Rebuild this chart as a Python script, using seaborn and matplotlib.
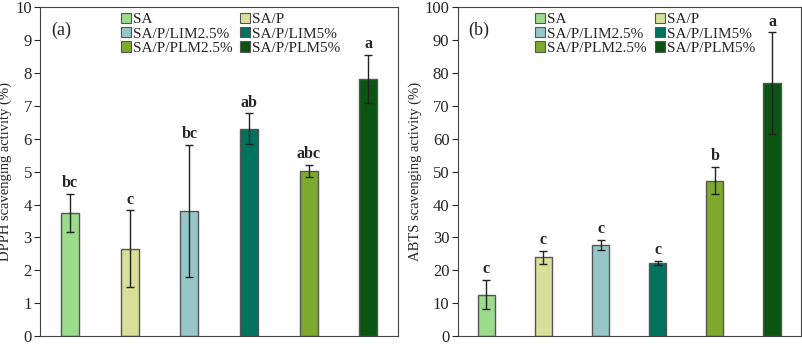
import matplotlib
matplotlib.use("Agg")
import matplotlib.pyplot as plt
import matplotlib.patches as mpatches
import seaborn as sns
import pandas as pd

samples = ["SA", "SA/P", "SA/P/LIM2.5%", "SA/P/LIM5%", "SA/P/PLM2.5%", "SA/P/PLM5%"]
colors = ["#9ADB8C", "#D8DF98", "#96C7C6", "#00735E", "#7DAA2C", "#0A5512"]

dpph_mean = [3.75, 2.65, 3.80, 6.30, 5.02, 7.83]
dpph_err = [0.58, 1.17, 2.01, 0.47, 0.19, 0.73]
dpph_sig = ["bc", "c", "bc", "ab", "abc", "a"]

abts_mean = [12.6, 24.0, 27.7, 22.3, 47.3, 76.9]
abts_err = [4.5, 2.0, 1.5, 0.6, 4.1, 15.5]
abts_sig = ["c", "c", "c", "c", "b", "a"]

sns.set_style("white")
plt.rcParams["font.family"] = ["Liberation Serif", "DejaVu Serif"]

fig = plt.figure(figsize=(8.03, 3.45), dpi=100)
ax1 = fig.add_axes([0.050, 0.026, 0.446, 0.953])
ax2 = fig.add_axes([0.570, 0.026, 0.427, 0.953])


def draw_panel(ax, means, errs, sig, ylim, step, ylabel, tag):
    df = pd.DataFrame({"sample": samples, "value": means})
    sns.barplot(data=df, x="sample", y="value", hue="sample", palette=colors,
                saturation=1, width=0.3, edgecolor="#555555", linewidth=1.0,
                legend=False, ax=ax)
    ax.errorbar(range(len(samples)), means, yerr=errs, fmt="none",
                ecolor="#222222", elinewidth=1.0, capsize=3, capthick=1.0)
    off = ylim * 0.008
    for i, (m, e, s) in enumerate(zip(means, errs, sig)):
        ax.text(i, m + e + off, s, ha="center", va="bottom",
                fontsize=11.5, fontweight="bold")
    ax.set_ylim(0, ylim)
    ax.set_xlim(-0.5, len(samples) - 0.5)
    ax.set_yticks(range(0, ylim + 1, step))
    ax.set_xticks([])
    ax.set_xlabel("")
    ax.set_ylabel(ylabel, fontsize=10.5, labelpad=2)
    ax.tick_params(axis="y", direction="out", length=4, width=0.8,
                   labelsize=12, left=True, pad=2)
    for sp in ax.spines.values():
        sp.set_color("#444444")
        sp.set_linewidth(0.8)
    ax.text(0.03, 0.955, tag, transform=ax.transAxes, fontsize=13,
            ha="left", va="top")
    # legend filled row by row: SA, SA/P / LIM2.5, LIM5 / PLM2.5, PLM5
    order = [0, 2, 4, 1, 3, 5]
    handles = [mpatches.Patch(facecolor=colors[k], edgecolor="#555555",
                              linewidth=0.8, label=samples[k]) for k in order]
    ax.legend(handles=handles, ncol=2, loc="upper left",
              bbox_to_anchor=(0.195, 1.015), frameon=False, fontsize=11,
              handlelength=0.65, handleheight=0.65, handletextpad=0.15,
              columnspacing=0.5, labelspacing=0.05, borderpad=0.2)


draw_panel(ax1, dpph_mean, dpph_err, dpph_sig, 10, 1,
           "DPPH scavenging activity (%)", "(a)")
draw_panel(ax2, abts_mean, abts_err, abts_sig, 100, 10,
           "ABTS scavenging activity (%)", "(b)")

fig.savefig("out.png", dpi=100)
plt.close(fig)
